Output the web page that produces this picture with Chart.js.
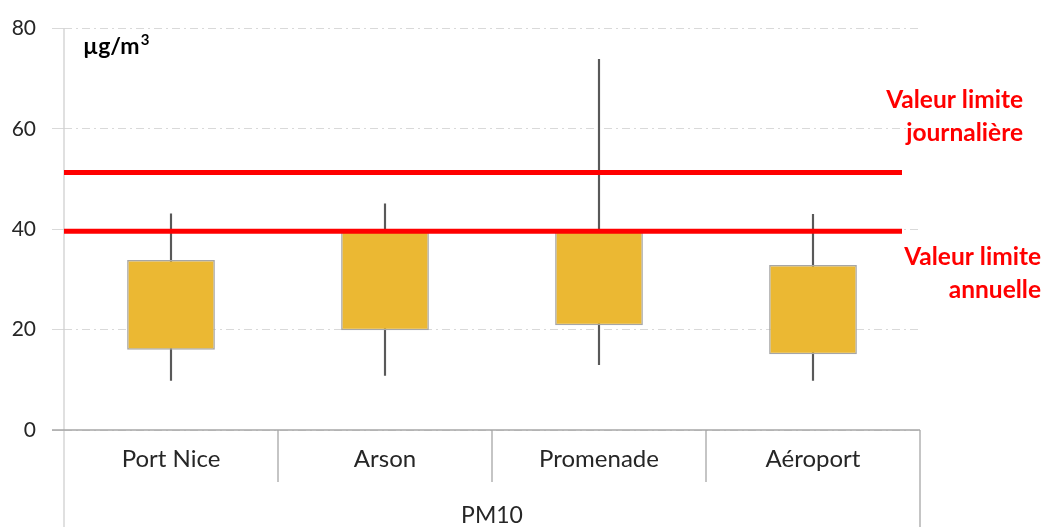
<!DOCTYPE html>
<html>
<head>
<meta charset="utf-8">
<script src="https://cdn.jsdelivr.net/npm/chart.js@4/dist/chart.umd.min.js"></script>
<style>
  body { margin: 0; background: #fff; }
  #wrap { width: 1044px; height: 527px; position: relative; }
</style>
</head>
<body>
<div id="wrap"><canvas id="chart"></canvas></div>
<script>
const stations = ['Port Nice', 'Arson', 'Promenade', 'Aéroport']
const groupLabel = 'PM10'
const unitLabel = ['µg/m', '3']
const mins = [9.9, 10.9, 13.0, 9.9]
const q1 = [16.0, 19.9, 20.9, 15.1]
const q3 = [33.9, 40.0, 39.6, 32.9]
const maxs = [43.1, 45.1, 73.9, 43.0]
const limitValues = [51.3, 39.6]
const limitLabels = [['Valeur limite', 'journalière'], ['Valeur limite', 'annuelle']]
const yTicks = [0, 20, 40, 60, 80]

const FONT = 'Lato'

// axe X "tableau" + ligne de base + unité
const framePlugin = {
  id: 'frame',
  afterDatasetsDraw(chart) {
    const { ctx, chartArea, scales: { x, y } } = chart
    const bottom = chart.height
    const half = (x.getPixelForValue(1) - x.getPixelForValue(0)) / 2
    ctx.save()
    ctx.lineWidth = 1.3
    ctx.strokeStyle = '#d0d0d0'
    ctx.beginPath()
    ctx.moveTo(chartArea.left, chartArea.top)
    ctx.lineTo(chartArea.left, bottom)
    ctx.stroke()
    ctx.strokeStyle = '#a6a6a6'
    ctx.beginPath()
    ctx.moveTo(chartArea.left - 12, y.getPixelForValue(0))
    ctx.lineTo(chartArea.right, y.getPixelForValue(0))
    ctx.stroke()
    stations.forEach((s, i) => {
      if (i === 0) return
      const px = x.getPixelForValue(i) - half
      ctx.beginPath()
      ctx.moveTo(px, chartArea.bottom)
      ctx.lineTo(px, chartArea.bottom + 52)
      ctx.stroke()
    })
    ctx.beginPath()
    ctx.moveTo(chartArea.right, chartArea.bottom)
    ctx.lineTo(chartArea.right, bottom)
    ctx.stroke()

    ctx.fillStyle = '#000'
    ctx.textBaseline = 'alphabetic'
    ctx.font = 'bold 23px ' + FONT
    const ux = chartArea.left + 19
    ctx.fillText(unitLabel[0], ux, 54)
    const w = ctx.measureText(unitLabel[0]).width
    ctx.font = 'bold 15px ' + FONT
    ctx.fillText(unitLabel[1], ux + w + 1, 45)
    ctx.restore()
  }
}

// valeurs limites
const limitPlugin = {
  id: 'limits',
  afterDatasetsDraw(chart) {
    const { ctx, chartArea, scales: { y } } = chart
    ctx.save()
    ctx.strokeStyle = '#ff0000'
    ctx.lineWidth = 5
    limitValues.forEach((v, i) => {
      const py = y.getPixelForValue(v)
      ctx.beginPath()
      ctx.moveTo(chartArea.left, py)
      ctx.lineTo(chartArea.right - 18, py)
      ctx.stroke()
    })
    ctx.fillStyle = '#ff0000'
    ctx.font = 'bold 24.5px ' + FONT
    ctx.textAlign = 'right'
    ctx.textBaseline = 'alphabetic'
    const y0 = y.getPixelForValue(limitValues[0])
    ctx.fillText(limitLabels[0][0], 1023, y0 - 65)
    ctx.fillText(limitLabels[0][1], 1023, y0 - 32)
    const y1 = y.getPixelForValue(limitValues[1])
    ctx.fillText(limitLabels[1][0], 1041, y1 + 34)
    ctx.fillText(limitLabels[1][1], 1041, y1 + 67)
    ctx.restore()
  }
}

new Chart(document.getElementById('chart'), {
  type: 'bar',
  data: {
    labels: stations,
    datasets: [
      {
        label: 'min-max',
        data: stations.map((s, i) => [mins[i], maxs[i]]),
        backgroundColor: '#595959',
        barThickness: 1.5,
        grouped: false,
        order: 2
      },
      {
        label: 'Q1-Q3',
        data: stations.map((s, i) => [q1[i], q3[i]]),
        backgroundColor: '#ebb833',
        borderColor: '#a6a6a6',
        borderWidth: 1.5,
        borderSkipped: false,
        categoryPercentage: 1,
        barPercentage: 0.41,
        grouped: false,
        order: 1
      }
    ]
  },
  options: {
    responsive: true,
    maintainAspectRatio: false,
    animation: false,
    events: [],
    layout: { padding: { top: 26, right: 124, left: 0, bottom: 0 } },
    plugins: { legend: { display: false }, tooltip: { enabled: false } },
    scales: {
      x: {
        grid: { display: false, drawOnChartArea: false, drawTicks: false },
        border: { display: false },
        ticks: { color: '#262626', font: { family: FONT, size: 24 }, padding: 15 },
        title: { display: true, text: groupLabel, color: '#262626', font: { family: FONT, size: 23, lineHeight: 1 }, padding: { top: 0, bottom: 0 } },
        afterFit(scale) { scale.height = 97 }
      },
      y: {
        min: 0,
        max: 80,
        afterBuildTicks(scale) { scale.ticks = yTicks.map(v => ({ value: v })) },
        grid: { color: '#d9d9d9', lineWidth: 1, tickLength: 12 },
        border: { display: false, dash: [8, 4, 2, 4] },
        ticks: { color: '#262626', font: { family: FONT, size: 21 }, padding: 16 },
        afterFit(scale) { scale.width = 64 }
      }
    }
  },
  plugins: [framePlugin, limitPlugin]
})
</script>
</body>
</html>
